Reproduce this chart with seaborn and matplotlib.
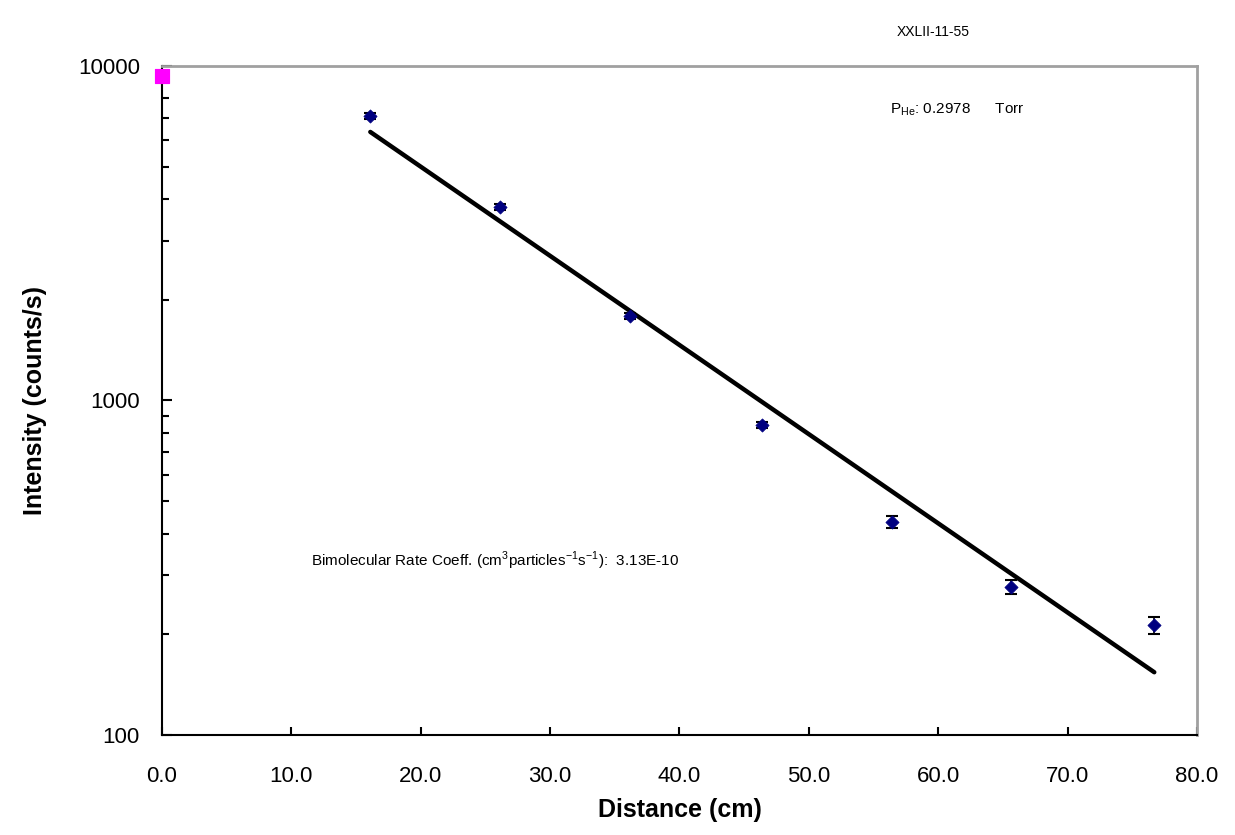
import matplotlib
matplotlib.use("Agg")
import matplotlib.pyplot as plt
import seaborn as sns
import pandas as pd
import numpy as np
from matplotlib.ticker import FixedLocator, LogLocator, NullFormatter

sns.set_theme(style="white")
plt.rcParams['font.family'] = ['Liberation Sans', 'DejaVu Sans']
plt.rcParams['text.color'] = 'black'
plt.rcParams['axes.labelcolor'] = 'black'
plt.rcParams['ytick.direction'] = 'in'
plt.rcParams['xtick.direction'] = 'in'

# Data
distance = [16.1, 26.1, 36.2, 46.4, 56.4, 65.6, 76.7]
intensity = [7080, 3790, 1790, 845, 433, 277, 213]
intensity_err = [140, 75, 40, 20, 17, 13, 12]
ref_distance = [0.0]
ref_intensity = [9330]
fit_distance = [16.1, 76.7]
fit_intensity = [6350, 154]
x_ticks = [0, 10, 20, 30, 40, 50, 60, 70, 80]
x_ticklabels = ["0.0", "10.0", "20.0", "30.0", "40.0", "50.0", "60.0", "70.0", "80.0"]
y_ticks = [100, 1000, 10000]
y_ticklabels = ["100", "1000", "10000"]

df = pd.DataFrame({"d": distance, "i": intensity})
fit_df = pd.DataFrame({"d": fit_distance, "i": fit_intensity})
ref_df = pd.DataFrame({"d": ref_distance, "i": ref_intensity})

fig = plt.figure(figsize=(12.35, 8.35), dpi=100)
ax = fig.add_axes([0.1312, 0.1198, 0.8380, 0.8012])

sns.lineplot(data=fit_df, x="d", y="i", ax=ax, color="black", linewidth=3.2, zorder=2)
ax.errorbar(distance, intensity, yerr=intensity_err, fmt="none", ecolor="black",
            elinewidth=1.2, capsize=4, capthick=1.5, zorder=3)
sns.scatterplot(data=df, x="d", y="i", ax=ax, marker="D", s=45, color="#000080",
                edgecolor="#000080", zorder=4)
sns.scatterplot(data=ref_df, x="d", y="i", ax=ax, marker="s", s=110, color="#FF00FF",
                edgecolor="#FF00FF", zorder=5, clip_on=False)

ax.set_yscale("log")
ax.set_xlim(0, 80)
ax.set_ylim(100, 10000)
ax.set_xticks(x_ticks)
ax.set_xticklabels(x_ticklabels)
ax.yaxis.set_major_locator(FixedLocator(y_ticks))
ax.set_yticklabels(y_ticklabels)
ax.yaxis.set_minor_locator(LogLocator(base=10, subs=np.arange(2, 10)))
ax.yaxis.set_minor_formatter(NullFormatter())

ax.tick_params(axis="x", which="major", direction="in", length=6, width=1.5,
               labelsize=16, pad=22, colors="black", bottom=True)
ax.tick_params(axis="y", which="major", direction="in", length=7, width=1.5,
               labelsize=16, pad=16, colors="black", left=True)
ax.tick_params(axis="y", which="minor", direction="in", length=5, width=1.5,
               left=True, colors="black")

for side in ["left", "bottom"]:
    ax.spines[side].set_color("black")
    ax.spines[side].set_linewidth(1.5)
for side in ["top", "right"]:
    ax.spines[side].set_color("#a0a0a0")
    ax.spines[side].set_linewidth(2)

ax.set_xlabel("Distance (cm)", fontsize=18, fontweight="bold", labelpad=8, color="black")
ax.set_ylabel("Intensity (counts/s)", fontsize=18, fontweight="bold", labelpad=22, color="black")

fig.text(0.756, 0.962, "XXLII-11-55", fontsize=10, ha="center", va="center", color="black")
ax.text(0.703, 0.934, r"P$_{\mathregular{He}}$: 0.2978      Torr", transform=ax.transAxes,
        fontsize=11, ha="left", va="center", color="black")
ax.text(0.1435, 0.260, r"Bimolecular Rate Coeff. (cm$^{\mathregular{3}}$particles$^{\mathregular{-1}}$s$^{\mathregular{-1}}$):  3.13E-10",
        transform=ax.transAxes, fontsize=11, ha="left", va="center", color="black")

fig.savefig("out.png", dpi=100, facecolor="white")
